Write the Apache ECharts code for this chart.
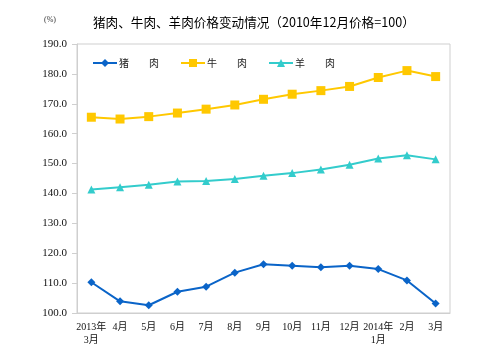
<!DOCTYPE html>
<html><head><meta charset="utf-8">
<script src="https://cdn.jsdelivr.net/npm/echarts@6/dist/echarts.min.js"></script>
<style>html,body{margin:0;padding:0;background:#fff;}#c{width:488px;height:364px;}</style>
</head><body><div id="c"></div>
<script>
const categories = ['2013年\n3月','4月','5月','6月','7月','8月','9月','10月','11月','12月','2014年\n1月','2月','3月'];
const seriesNames = ['猪　　肉','牛　　肉','羊　　肉'];
const pork   = [110.3,103.9,102.6,107.1,108.8,113.5,116.3,115.8,115.3,115.8,114.7,110.9,103.2];
const beef   = [165.5,164.9,165.7,166.9,168.2,169.6,171.5,173.2,174.4,175.8,178.8,181.1,179.1];
const mutton = [141.3,142.1,142.9,144.0,144.2,144.8,145.9,146.8,148.0,149.6,151.7,152.8,151.4];
const yTicks = {min:100, max:190, interval:10};

const chart = echarts.init(document.getElementById('c'));
const colors = ['#0A64C8','#FFC800','#33CCCC'];
const symbols = ['diamond','rect','triangle'];
const sizes = [8,9,8];
const data = [pork, beef, mutton];
chart.setOption({
  animation:false,
  backgroundColor:'#fff',
  title:{text:'猪肉、牛肉、羊肉价格变动情况（2010年12月价格=100）',left:88,top:11,
    textStyle:{fontFamily:'Noto Sans CJK SC',fontSize:12.6,fontWeight:'normal',color:'#000'}},
  graphic:[{type:'text',left:44,top:16,style:{text:'(%)',fontSize:8,fill:'#333',fontFamily:'Liberation Serif'}}],
  legend:{left:92,top:58,padding:0,itemWidth:24,itemHeight:10,itemGap:21,
    textStyle:{fontFamily:'Noto Sans CJK SC',fontSize:10,color:'#222',padding:[0,0,0,-3]},
    data:seriesNames},
  grid:{left:77,right:38,top:44,bottom:51,show:true,borderColor:'#cfcfcf',borderWidth:1},
  xAxis:{type:'category',data:categories,boundaryGap:true,
    axisLine:{lineStyle:{color:'#cfcfcf'}},axisTick:{show:false},
    axisLabel:{interval:0,fontFamily:'Liberation Serif, Noto Sans CJK SC',fontSize:10,color:'#111',lineHeight:13,margin:8}},
  yAxis:{type:'value',min:yTicks.min,max:yTicks.max,interval:yTicks.interval,
    axisLine:{show:true,lineStyle:{color:'#cfcfcf'}},
    axisTick:{show:true,length:5,lineStyle:{color:'#cfcfcf'}},
    splitLine:{show:false},
    axisLabel:{formatter:v=>v.toFixed(1),fontFamily:'Liberation Serif',fontSize:11,color:'#111',margin:10}},
  series:seriesNames.map((n,i)=>({name:n,type:'line',data:data[i],symbol:symbols[i],symbolSize:sizes[i],
    showAllSymbol:true,lineStyle:{color:colors[i],width:2},itemStyle:{color:colors[i]}}))
});
</script></body></html>
